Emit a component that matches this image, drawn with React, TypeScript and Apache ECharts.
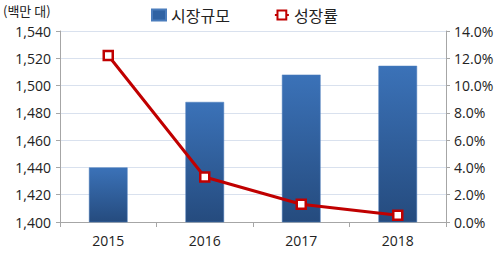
import React, { useEffect, useRef } from "react";
import * as echarts from "echarts";

const categories = ["2015", "2016", "2017", "2018"];
const marketSize = [1440, 1488, 1508, 1514.5];
const growthRate = [12.2, 3.3, 1.3, 0.5];
const leftTicks = [1400, 1540];
const rightTicks = [0, 14];

const FONT = "'Noto Sans CJK KR', 'Noto Sans', sans-serif";
const NUMFONT = "'Open Sans', 'Noto Sans', sans-serif";

export default function App() {
  const ref = useRef<HTMLDivElement>(null);
  useEffect(() => {
    if (!ref.current) return;
    const chart = echarts.init(ref.current, null, { renderer: "svg" });
    chart.setOption({
      animation: false,
      textStyle: { fontFamily: FONT },
      grid: { left: 60, right: 54, top: 31, bottom: 33 },
      graphic: [
        {
          type: "text",
          left: 3,
          top: 4,
          style: { text: "(백만 대)", fontSize: 13, fill: "#222", fontFamily: FONT },
        },
      ],
      legend: {
        top: 2,
        left: 146,
        itemGap: 44,
        textStyle: { fontSize: 16, color: "#222", fontFamily: FONT },
        data: [
          { name: "시장규모", icon: "rect", itemStyle: { color: "#2f62a3" } },
          { name: "성장률" },
        ],
        itemWidth: 14,
        itemHeight: 11,
      },
      xAxis: {
        type: "category",
        data: categories,
        axisLine: { lineStyle: { color: "#a6a6a6" } },
        axisTick: { show: true, alignWithLabel: false, length: 5, lineStyle: { color: "#a6a6a6" } },
        axisLabel: { fontSize: 14, color: "#222", margin: 11, fontFamily: NUMFONT },
      },
      yAxis: [
        {
          type: "value",
          min: leftTicks[0],
          max: leftTicks[1],
          interval: 20,
          axisLine: { show: true, lineStyle: { color: "#a6a6a6" } },
          axisTick: { show: true, length: 4, lineStyle: { color: "#a6a6a6" } },
          axisLabel: {
            fontSize: 14,
            color: "#222",
            margin: 9,
            fontFamily: NUMFONT,
            formatter: (v: number) => v.toLocaleString("en-US"),
          },
          splitLine: { lineStyle: { color: "#d9e1ee" } },
        },
        {
          type: "value",
          min: rightTicks[0],
          max: rightTicks[1],
          interval: 2,
          position: "right",
          axisLine: { show: true, lineStyle: { color: "#a6a6a6" } },
          axisTick: { show: true, length: 4, lineStyle: { color: "#a6a6a6" } },
          axisLabel: {
            fontSize: 14,
            color: "#222",
            margin: 8,
            fontFamily: NUMFONT,
            formatter: (v: number) => v.toFixed(1) + "%",
          },
          splitLine: { show: false },
        },
      ],
      series: [
        {
          name: "시장규모",
          type: "bar",
          data: marketSize,
          barWidth: "40%",
          itemStyle: {
            color: new echarts.graphic.LinearGradient(0, 0, 0, 1, [
              { offset: 0, color: "#3b72b8" },
              { offset: 1, color: "#254b7e" },
            ]),
            borderColor: "#4a7cbc",
            borderWidth: 0.5,
          },
        },
        {
          name: "성장률",
          type: "line",
          yAxisIndex: 1,
          data: growthRate,
          symbol: "rect",
          symbolSize: 9,
          lineStyle: { color: "#c00000", width: 3 },
          itemStyle: { color: "#ffffff", borderColor: "#c00000", borderWidth: 2.5 },
        },
      ],
    });
    return () => chart.dispose();
  }, []);
  return (
    <div
      ref={ref}
      style={{ position: "absolute", left: 0, top: 0, width: 500, height: 255 }}
    />
  );
}
